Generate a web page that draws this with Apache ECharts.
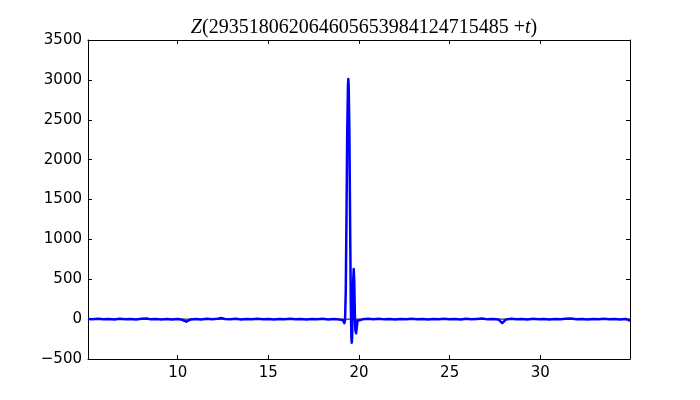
<!DOCTYPE html>
<html>
<head>
<meta charset="utf-8">
<script src="https://cdn.jsdelivr.net/npm/echarts@6/dist/echarts.min.js"></script>
<style>
  html, body { margin: 0; padding: 0; background: #fff; }
  #chart { width: 700px; height: 400px; }
</style>
</head>
<body>
<div id="chart"></div>
<script>
// t values and Z(...+t) values
const tValues = [
  5.05, 5.3, 5.6, 5.9, 6.2, 6.5, 6.8, 7.1, 7.4, 7.7, 8.0, 8.3, 8.5, 8.8, 9.1, 9.4, 9.7, 10.0,
  10.25, 10.47, 10.7, 11.0, 11.3, 11.6, 11.9, 12.2, 12.4, 12.6, 12.9, 13.2, 13.5, 13.8, 14.1,
  14.4, 14.7, 15.0, 15.3, 15.6, 15.9, 16.2, 16.5, 16.8, 17.1, 17.4, 17.7, 18.0, 18.3, 18.6,
  18.9, 19.1, 19.15, 19.19, 19.23, 19.27, 19.31, 19.35, 19.39, 19.41, 19.43, 19.47, 19.51,
  19.55, 19.58, 19.6, 19.62, 19.65, 19.68, 19.71, 19.74, 19.77, 19.8, 19.84, 19.88, 19.92,
  19.96, 20.2, 20.5, 20.8, 21.1, 21.4, 21.7, 22.0, 22.3, 22.6, 22.9, 23.2, 23.5, 23.8, 24.1,
  24.4, 24.7, 25.0, 25.3, 25.6, 25.9, 26.2, 26.5, 26.8, 27.1, 27.4, 27.7, 27.9, 28.1, 28.4,
  28.7, 29.0, 29.3, 29.6, 29.9, 30.2, 30.5, 30.8, 31.1, 31.4, 31.7, 32.0, 32.3, 32.6, 32.9,
  33.2, 33.5, 33.8, 34.1, 34.4, 34.7, 34.85, 34.95
];
const zValues = [
  2, -3, 4, -2, 3, -4, 5, -1, 3, -5, 4, 8, -3, 2, -4, 3, -6, 2,
  -8, -32, -6, 3, -4, 5, -2, 6, 14, 2, -3, 4, -5, 3, -2,
  4, -3, 2, -4, 3, -2, 5, -3, 2, -4, 3, -2, 4, -5, 3,
  -6, -10, -35, -50, -20, 350, 1300, 2350, 2930, 3010, 2930, 2350, 1200,
  150, -220, -296, -230, 80, 480, 630, 460, 80, -140, -178, -100, -20,
  5, -3, 4, -2, 6, -3, 2, -4, 3, -2, 5, -3, 2, -4, 3,
  -2, 4, -3, 2, -5, 6, -2, 3, 8, -3, 2, -6, -50, -5, 4,
  -3, 2, -4, 5, -2, 3, -4, 2, -3, 4, 8, -2, 3, -4, 2,
  -3, 4, -2, 3, -4, 2, -8, -25
];
const xTicks = [10, 15, 20, 25, 30];
const xMin = 5.05, xMax = 34.95;
const yMin = -500, yMax = 3500, yStep = 500;

const points = tValues.map((t, i) => [t, zValues[i]]);

const labelFont = { fontFamily: 'DejaVu Sans', fontSize: 15, color: '#000' };
const fmt = v => String(v).replace('-', '\u2212');

const chart = echarts.init(document.getElementById('chart'));
chart.setOption({
  animation: false,
  backgroundColor: '#fff',
  title: {
    text: '{i|Z}{n|(293518062064605653984124715485}{n| +}{i|t}{n|)}',
    left: 359,
    textAlign: 'center',
    top: 13,
    textStyle: {
      fontWeight: 'normal',
      rich: {
        i: { fontFamily: 'Liberation Serif', fontStyle: 'italic', fontWeight: 'normal', fontSize: 20, color: '#000' },
        n: { fontFamily: 'Liberation Serif', fontWeight: 'normal', fontSize: 20, color: '#000' }
      }
    }
  },
  grid: { left: 88, right: 70, top: 40, bottom: 41 },
  xAxis: [
    {
      type: 'value', position: 'bottom', min: xMin, max: xMax,
      axisLine: { onZero: false, lineStyle: { color: '#000', width: 1 } },
      axisTick: { inside: true, length: 4, customValues: xTicks, lineStyle: { color: '#000' } },
      axisLabel: { customValues: xTicks, margin: 7, formatter: fmt, ...labelFont },
      splitLine: { show: false }
    },
    {
      type: 'value', position: 'top', min: xMin, max: xMax,
      axisLine: { onZero: false, lineStyle: { color: '#000', width: 1 } },
      axisTick: { inside: true, length: 4, customValues: xTicks, lineStyle: { color: '#000' } },
      axisLabel: { show: false },
      splitLine: { show: false }
    }
  ],
  yAxis: [
    {
      type: 'value', position: 'left', min: yMin, max: yMax, interval: yStep,
      axisLine: { show: true, onZero: false, lineStyle: { color: '#000', width: 1 } },
      axisTick: { show: true, inside: true, length: 4, lineStyle: { color: '#000' } },
      axisLabel: { margin: 6, formatter: fmt, ...labelFont },
      splitLine: { show: false }
    },
    {
      type: 'value', position: 'right', min: yMin, max: yMax, interval: yStep,
      axisLine: { show: true, onZero: false, lineStyle: { color: '#000', width: 1 } },
      axisTick: { show: true, inside: true, length: 4, lineStyle: { color: '#000' } },
      axisLabel: { show: false },
      splitLine: { show: false }
    }
  ],
  series: [
    {
      type: 'line',
      data: [[xMin, 0], [xMax, 0]],
      symbol: 'none',
      silent: true,
      z: 1,
      lineStyle: { color: '#000', width: 1 }
    },
    {
      type: 'line',
      data: points,
      symbol: 'none',
      z: 2,
      lineStyle: { color: '#0000ff', width: 2.5, join: 'round' }
    }
  ]
});
</script>
</body>
</html>
